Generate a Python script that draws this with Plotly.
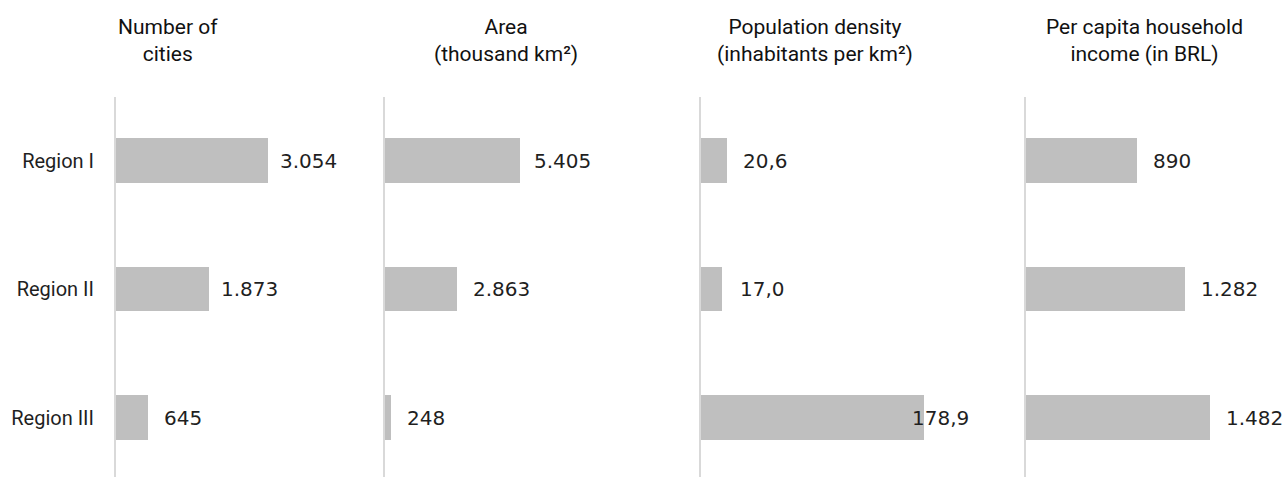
import plotly.graph_objects as go

# Data
regions = ["Region I", "Region II", "Region III"]
panel_titles = [
    "Number of<br>cities",
    "Area<br>(thousand km²)",
    "Population density<br>(inhabitants per km²)",
    "Per capita household<br>income (in BRL)",
]
cities = [3054, 1873, 645]
area_thousand_km2 = [5405, 2863, 248]
density_per_km2 = [20.6, 17.0, 178.9]
income_brl = [890, 1282, 1482]

cities_labels = ["3.054", "1.873", "645"]
area_labels = ["5.405", "2.863", "248"]
density_labels = ["20,6", "17,0", "178,9"]
income_labels = ["890", "1.282", "1.482"]

series = [cities, area_thousand_km2, density_per_km2, income_brl]
labels = [cities_labels, area_labels, density_labels, income_labels]

# Layout constants (pixels)
W, H = 1286, 477
TOP = 97
panel_left = [116, 385, 701, 1026]
panel_width = 240
x_max = [4822, 9609, 192.5, 1933]
title_center = [168, 506, 815, 1144]
label_shift = [[10, 10, 14], [12, 14, 14], [14, 16, -14], [14, 14, 14]]

BAR = "#bfbfbf"
LINE = "#d9d9d9"
TXT = "#1f1f1f"

ypos = list(range(len(regions)))
plot_h = H - TOP
unit_px = 128.5
y_top = -(160.5 - TOP) / unit_px
y_bottom = y_top + plot_h / unit_px

fig = go.Figure()
annotations = []
for i, vals in enumerate(series):
    k = "" if i == 0 else str(i + 1)
    fig.add_trace(go.Bar(
        x=vals, y=ypos, orientation="h", width=0.35,
        marker=dict(color=BAR, line=dict(width=0)),
        xaxis="x" + k, yaxis="y" + k, showlegend=False, hoverinfo="skip",
    ))
    x0 = panel_left[i] / W
    x1 = (panel_left[i] + panel_width) / W
    fig.layout["xaxis" + k] = dict(
        domain=[x0, x1], range=[0, x_max[i]], visible=False, fixedrange=True,
        anchor="y" + k,
    )
    fig.layout["yaxis" + k] = dict(
        domain=[0, 1], range=[y_bottom, y_top], anchor="x" + k,
        showline=True, linecolor=LINE, linewidth=2, showgrid=False, zeroline=False,
        tickvals=ypos, ticktext=regions, showticklabels=(i == 0),
        ticks="outside" if i == 0 else "", ticklen=16, tickcolor="rgba(0,0,0,0)",
        tickfont=dict(family="Roboto", size=20, color=TXT),
    )
    for j, v in enumerate(vals):
        annotations.append(dict(
            x=v, y=ypos[j], xref="x" + k, yref="y" + k, text=labels[i][j],
            xanchor="left", yanchor="middle", xshift=label_shift[i][j],
            showarrow=False, font=dict(family="DejaVu Sans", size=20, color=TXT),
        ))
    annotations.append(dict(
        x=title_center[i] / W, y=1 + (TOP - 41) / plot_h, xref="paper", yref="paper",
        text=panel_titles[i], showarrow=False, xanchor="center", yanchor="middle",
        align="center", font=dict(family="Roboto", size=21, color="#111111"),
    ))

fig.update_layout(
    width=W, height=H, margin=dict(l=0, r=0, t=TOP, b=0),
    paper_bgcolor="white", plot_bgcolor="white",
    annotations=annotations, bargap=0,
)

fig.write_html("out.html")
